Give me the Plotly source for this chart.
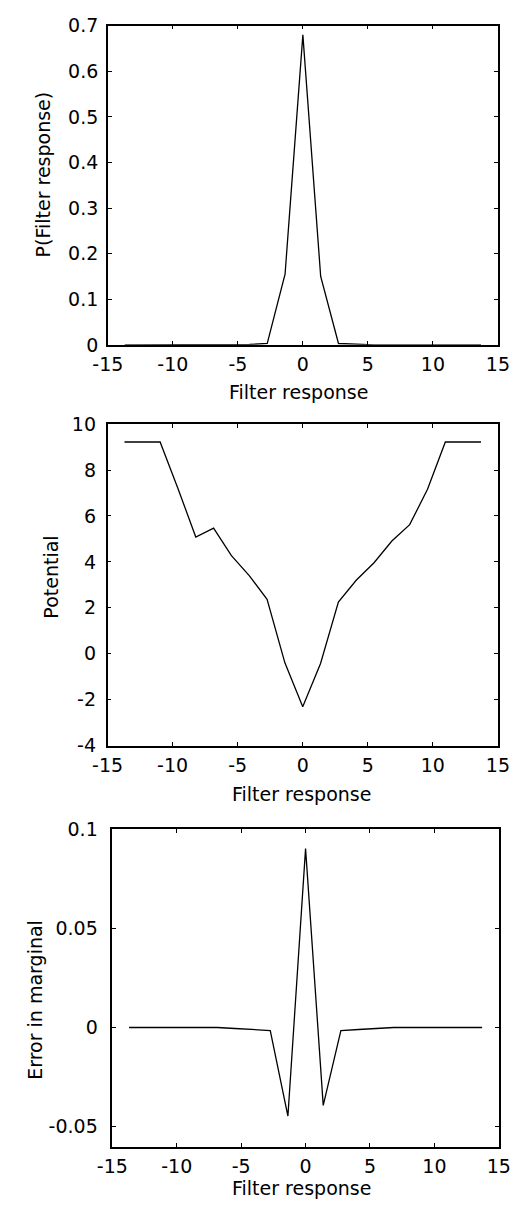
import plotly.graph_objects as go

# Filter response bins (21 bins)
filter_response = [-13.7, -12.33, -10.96, -9.59, -8.22, -6.85, -5.48, -4.11, -2.74, -1.37,
                   0.0, 1.37, 2.74, 4.11, 5.48, 6.85, 8.22, 9.59, 10.96, 12.33, 13.7]

# Panel 1: P(Filter response)
prob = [0, 0, 0, 0, 0, 0, 0.0002, 0.0008, 0.003, 0.155,
        0.68, 0.15, 0.003, 0.0008, 0.0002, 0, 0, 0, 0, 0, 0]

# Panel 2: Potential
potential = [9.22, 9.22, 9.22, 7.2, 5.08, 5.47, 4.27, 3.4, 2.37, -0.4,
             -2.31, -0.43, 2.25, 3.2, 3.96, 4.91, 5.62, 7.16, 9.22, 9.22, 9.22]

# Panel 3: Error in marginal
error = [0, 0, 0, 0, 0, 0, -0.0005, -0.001, -0.0015, -0.0446,
         0.0901, -0.0392, -0.0015, -0.001, -0.0005, 0, 0, 0, 0, 0, 0]

x_ticks = [-15, -10, -5, 0, 5, 10, 15]
y1_ticks = [0, 0.1, 0.2, 0.3, 0.4, 0.5, 0.6, 0.7]
y2_ticks = [-4, -2, 0, 2, 4, 6, 8, 10]
y3_ticks = [-0.05, 0, 0.05, 0.1]

x_title = "Filter response"
y_titles = ["P(Filter response)", "Potential", "Error in marginal"]

FONT = "DejaVu Sans, Liberation Sans, Arial, sans-serif"
FS = 19
W, H = 526, 1220

fig = go.Figure()
line = dict(color="black", width=1.3)
fig.add_trace(go.Scatter(x=filter_response, y=prob, mode="lines", line=line, xaxis="x", yaxis="y", showlegend=False))
fig.add_trace(go.Scatter(x=filter_response, y=potential, mode="lines", line=line, xaxis="x2", yaxis="y2", showlegend=False))
fig.add_trace(go.Scatter(x=filter_response, y=error, mode="lines", line=line, xaxis="x3", yaxis="y3", showlegend=False))


def px_x(p):
    return p / W


def px_y(p):
    return 1 - p / H


common_axis = dict(showline=True, linecolor="black", linewidth=1.5, mirror="ticks",
                   ticks="inside", ticklen=4, tickwidth=1.3, tickcolor="black",
                   showgrid=False, zeroline=False,
                   tickfont=dict(family=FONT, size=FS, color="black"))

# panel geometry in pixels: x-domain, y-domain (top, bottom), y-range, y ticks
panels = [
    ((97, 509), (15, 340), [0, 0.7], y1_ticks, "", 4),
    ((96.7, 509), (420.7, 748), [-4, 10], y2_ticks, "2", 6),
    ((101.7, 510), (833, 1156.5), [-0.06, 0.1], y3_ticks, "3", 9),
]
# title positions (pixel centres)
x_title_pos = [(298, 388), (302, 797), (302, 1199)]
y_title_pos = [(29, 166), (37, 577), (20, 1007)]

layout = dict(width=W, height=H, margin=dict(l=0, r=0, t=0, b=0),
              plot_bgcolor="white", paper_bgcolor="white",
              font=dict(family=FONT, size=FS, color="black"))

for i, (xd, yd, yr, yt, suf, ystand) in enumerate(panels):
    layout["xaxis" + suf] = dict(common_axis, domain=[px_x(xd[0]), px_x(xd[1])], range=[-15, 15],
                                 tickvals=x_ticks, ticktext=[str(v) for v in x_ticks],
                                 anchor="y" + suf, ticklabelstandoff=2)
    layout["yaxis" + suf] = dict(common_axis, domain=[px_y(yd[1]), px_y(yd[0])], range=yr,
                                 tickvals=yt, ticktext=[("%g" % v) for v in yt],
                                 anchor="x" + suf, ticklabelstandoff=ystand)

annotations = []
for (xp, yp) in x_title_pos:
    annotations.append(dict(text=x_title, x=px_x(xp), y=px_y(yp), xref="paper", yref="paper",
                            xanchor="center", yanchor="middle", showarrow=False,
                            font=dict(family=FONT, size=FS, color="black")))
for t, (xp, yp) in zip(y_titles, y_title_pos):
    annotations.append(dict(text=t, x=px_x(xp), y=px_y(yp), xref="paper", yref="paper",
                            xanchor="center", yanchor="middle", showarrow=False, textangle=-90,
                            font=dict(family=FONT, size=FS, color="black")))
layout["annotations"] = annotations

fig.update_layout(**layout)
fig.write_html("out.html", config={"displayModeBar": False},
               post_script="document.body.style.margin='0';")
